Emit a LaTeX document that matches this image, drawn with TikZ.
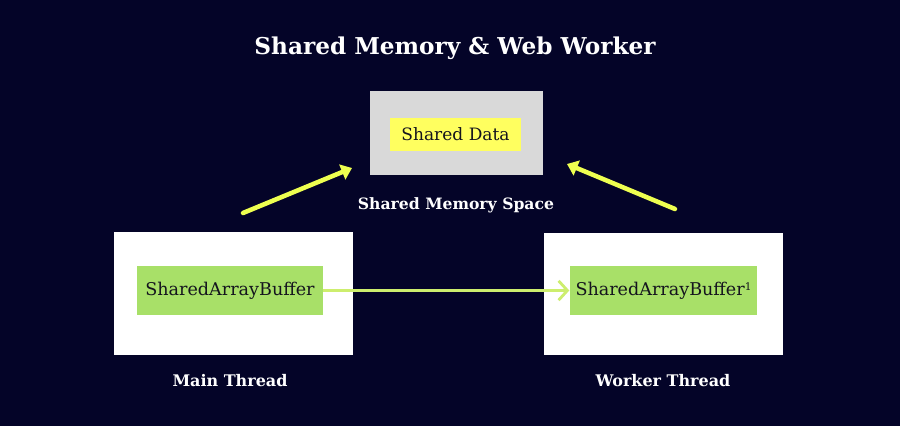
\documentclass[tikz,border=0pt]{standalone}
\usepackage{fontspec}
\setmainfont{DejaVu Serif}
\definecolor{bgnavy}{RGB}{4, 4, 40}
\definecolor{memgray}{RGB}{217, 217, 217}
\definecolor{datayellow}{RGB}{255, 255, 95}
\definecolor{bufgreen}{RGB}{168, 224, 104}
\definecolor{arrowyellow}{RGB}{238, 255, 80}
\definecolor{linkgreen}{RGB}{205, 238, 110}
\definecolor{inkdark}{RGB}{20, 20, 30}
\usetikzlibrary{arrows.meta, positioning}

\begin{document}
\begin{tikzpicture}[x=0.02cm, y=-0.02cm,
    label/.style={text=white, font=\bfseries\fontsize{9.1}{11}\selectfont},
    bufbox/.style={fill=bufgreen, text=inkdark, minimum width=3.72cm, minimum height=0.98cm, font=\fontsize{10}{12}\selectfont},
    threadbox/.style={fill=white, minimum width=4.78cm, minimum height=2.46cm},
    uparrow/.style={-{Triangle[length=6pt, width=9pt]}, line width=2.6pt, line cap=round, arrowyellow}]
  \fill[bgnavy] (0, 0) rectangle (900, 426);

  % Title
  \node[text=white, font=\bfseries\fontsize{13.2}{16}\selectfont] (title) at (455, 48) {Shared Memory \& Web Worker};

  % Shared memory space
  \node[fill=memgray, minimum width=3.46cm, minimum height=1.68cm] (memory) at (456.5, 133) {};
  \node[fill=datayellow, text=inkdark, minimum width=2.62cm, minimum height=0.66cm, font=\fontsize{9.7}{11}\selectfont] (data) at (455.5, 134.5) {Shared Data};
  \node[label, font=\bfseries\fontsize{8.9}{11}\selectfont] (memlabel) at (456, 205) {Shared Memory Space};

  % Threads
  \node[threadbox] (main) at (233.5, 293.5) {};
  \node[bufbox] (mainbuf) at (230, 290.5) {SharedArrayBuffer};
  \node[label] (mainlabel) at (230, 381) {Main Thread};

  \node[threadbox] (worker) at (663.5, 294) {};
  \node[bufbox] (workerbuf) at (663.5, 290.5) {SharedArrayBuffer{\fontsize{6}{7}\selectfont\raisebox{0.8ex}{1}}};
  \node[label] (workerlabel) at (663, 381) {Worker Thread};

  % Arrows
  \coordinate (mainup) at (243, 213);
  \coordinate (memin1) at (352, 168);
  \coordinate (workerup) at (675, 209);
  \coordinate (memin2) at (567, 164);
  \draw[uparrow] (mainup) -- (memin1);
  \draw[uparrow] (workerup) -- (memin2);
  \draw[-{Straight Barb[length=5pt, width=11pt]}, line width=1.6pt, linkgreen] (mainbuf.east) -- (workerbuf.west);
\end{tikzpicture}
\end{document}
